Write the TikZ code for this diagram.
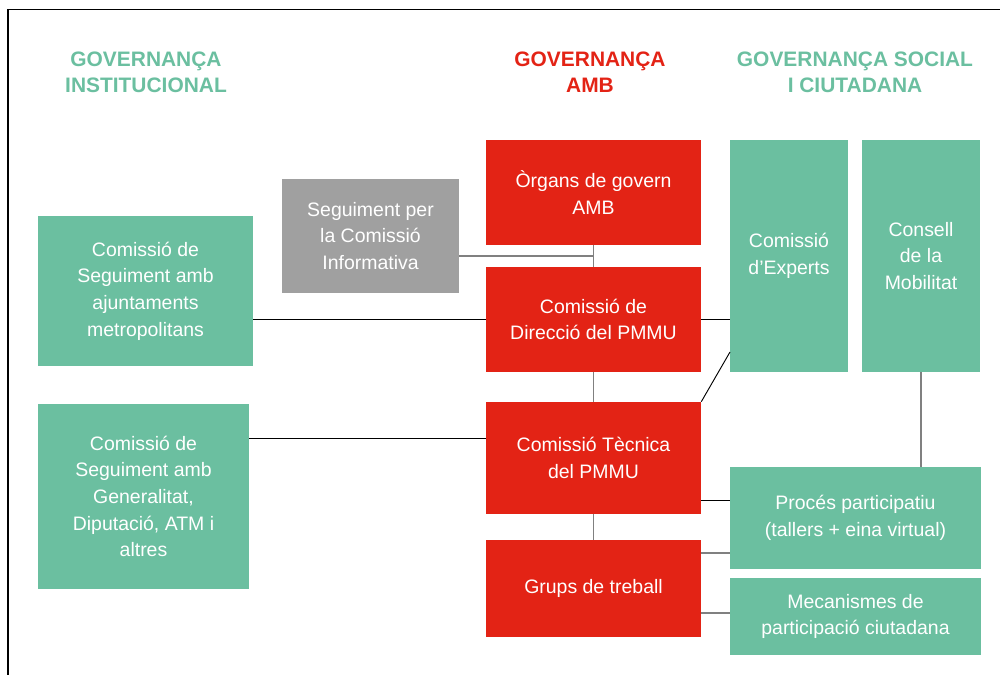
\documentclass[tikz,border=0pt]{standalone}
\usepackage{fontspec}
\setmainfont{Liberation Sans}
\definecolor{grn}{RGB}{107,191,160}
\definecolor{rd}{RGB}{227,35,21}
\definecolor{gry}{RGB}{160,160,160}
\definecolor{lgry}{RGB}{128,128,128}
\begin{document}
\begin{tikzpicture}[x=0.75pt,y=-0.75pt,
  bx/.style 2 args={rectangle, inner sep=0pt, minimum width=#1*0.75pt, minimum height=#2*0.75pt,
    text=white, align=center, font=\fontsize{14.6pt}{20pt}\selectfont},
  gbox/.style={fill=grn},
  rbox/.style={fill=rd},
  ybox/.style={fill=gry},
  hdr/.style={font=\fontsize{15.7pt}{19.5pt}\selectfont\bfseries, align=center, inner sep=0pt},
  bl/.style={draw=black, line width=0.7pt},
  gl/.style={draw=lgry, line width=1pt}]
\useasboundingbox (0,0) rectangle (1000,675);
\draw[line width=1pt] (8,675) -- (8,9.5) -- (1000,9.5);

% headers
\node[hdr, text=grn] (h1) at (146,72) {GOVERNANÇA\\INSTITUCIONAL};
\node[hdr, text=rd] (h2) at (590,72) {GOVERNANÇA\\AMB};
\node[hdr, text=grn] (h3) at (855,72) {GOVERNANÇA SOCIAL\\I CIUTADANA};

% boxes
\node[bx={215}{150}, gbox] (aj) at (145.5,291) {Comissió de\\Seguiment amb\\ajuntaments\\metropolitans};
\node[bx={211}{185}, gbox] (gen) at (143.5,496.5) {Comissió de\\Seguiment amb\\Generalitat,\\Diputació, ATM i\\altres};
\node[bx={177}{114}, ybox] (seg) at (370.5,236) {Seguiment per\\la Comissió\\Informativa};
\node[bx={215}{105}, rbox] (org) at (593.5,192.5) {Òrgans de govern\\AMB};
\node[bx={215}{105}, rbox] (dir) at (593.5,319.5) {Comissió de\\Direcció del PMMU};
\node[bx={215}{112}, rbox] (tec) at (593.5,458) {Comissió Tècnica\\del PMMU};
\node[bx={215}{97}, rbox] (gru) at (593.5,588.5) {Grups de treball};
\node[bx={118}{232}, gbox] (exp) at (789,256) {Comissió\\d’Experts};
\node[bx={118}{232}, gbox] (con) at (921,256) {Consell\\de la\\Mobilitat};
\node[bx={251}{102}, gbox] (pro) at (855.5,518) {Procés participatiu\\(tallers + eina virtual)};
\node[bx={251}{77}, gbox] (mec) at (855.5,616.5) {Mecanismes de\\participació ciutadana};

% connectors
\coordinate (j1) at (593.5,256);
\coordinate (cD) at (730,352);
\coordinate (yG) at (0,438);
\coordinate (yP1) at (0,500);
\coordinate (yP2) at (0,553);
\coordinate (yM) at (0,613);

\draw[gl] (org.south) -- (dir.north);
\draw[gl] (seg.east |- j1) -- (j1);
\draw[bl] (aj.east |- dir.west) -- (dir.west);
\draw[bl] (dir.east) -- (exp.west |- dir.east);
\draw[gl] (dir.south) -- (tec.north);
\draw[bl] (tec.north east) -- (cD);
\draw[bl] (gen.east |- yG) -- (tec.west |- yG);
\draw[gl] (tec.south) -- (gru.north);
\draw[gl] (con.south) -- (pro.north -| con.south);
\draw[bl] (tec.east |- yP1) -- (pro.west |- yP1);
\draw[gl] (gru.east |- yP2) -- (pro.west |- yP2);
\draw[gl] (gru.east |- yM) -- (mec.west |- yM);
\end{tikzpicture}
\end{document}
